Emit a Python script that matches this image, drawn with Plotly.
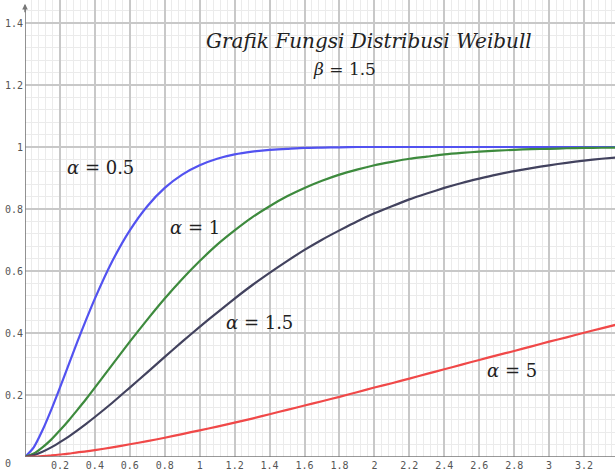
import plotly.graph_objects as go

# Sample points of the Weibull CDF curves (beta = 1.5)
x_vals = [0.0, 0.05, 0.1, 0.15, 0.2, 0.25, 0.3, 0.35, 0.4, 0.5, 0.6, 0.7, 0.8, 0.9, 1.0, 1.1,
          1.2, 1.3, 1.4, 1.5, 1.6, 1.7, 1.8, 1.9, 2.0, 2.1, 2.2, 2.3, 2.4, 2.5, 2.6, 2.7, 2.8,
          2.9, 3.0, 3.1, 3.2, 3.3, 3.4]

f_alpha_05 = [0.0, 0.031, 0.086, 0.152, 0.224, 0.298, 0.372, 0.443, 0.511, 0.632, 0.731, 0.809,
              0.868, 0.911, 0.941, 0.962, 0.976, 0.985, 0.991, 0.994, 0.997, 0.998, 0.999, 1.0,
              1.0, 1.0, 1.0, 1.0, 1.0, 1.0, 1.0, 1.0, 1.0, 1.0, 1.0, 1.0, 1.0, 1.0, 1.0]
f_alpha_1 = [0.0, 0.011, 0.031, 0.056, 0.086, 0.118, 0.152, 0.187, 0.224, 0.298, 0.372, 0.443,
             0.511, 0.574, 0.632, 0.685, 0.731, 0.773, 0.809, 0.841, 0.868, 0.891, 0.911, 0.927,
             0.941, 0.952, 0.962, 0.969, 0.976, 0.981, 0.985, 0.988, 0.991, 0.993, 0.994, 0.996,
             0.997, 0.9975, 0.998]
f_alpha_15 = [0.0, 0.006, 0.017, 0.031, 0.048, 0.066, 0.086, 0.107, 0.129, 0.175, 0.224, 0.273,
              0.323, 0.372, 0.420, 0.466, 0.511, 0.554, 0.594, 0.632, 0.668, 0.701, 0.731, 0.760,
              0.786, 0.809, 0.831, 0.850, 0.868, 0.884, 0.898, 0.911, 0.922, 0.932, 0.941, 0.949,
              0.956, 0.962, 0.967]
f_alpha_5 = [0.0, 0.001, 0.003, 0.005, 0.008, 0.011, 0.015, 0.018, 0.022, 0.031, 0.041, 0.051,
             0.062, 0.074, 0.086, 0.098, 0.111, 0.124, 0.138, 0.152, 0.166, 0.180, 0.194, 0.209,
             0.224, 0.238, 0.253, 0.268, 0.283, 0.298, 0.313, 0.328, 0.342, 0.357, 0.372, 0.386,
             0.401, 0.415, 0.429]

x_ticks = [0.2, 0.4, 0.6, 0.8, 1, 1.2, 1.4, 1.6, 1.8, 2, 2.2, 2.4, 2.6, 2.8, 3, 3.2]
x_ticktext = ["0.2", "0.4", "0.6", "0.8", "1", "1.2", "1.4", "1.6", "1.8", "2", "2.2", "2.4",
              "2.6", "2.8", "3", "3.2"]
y_ticks = [0.2, 0.4, 0.6, 0.8, 1, 1.2, 1.4]
y_ticktext = ["0.2", "0.4", "0.6", "0.8", "1", "1.2", "1.4"]

series = [
    ("α = 0.5", f_alpha_05, "#5252f0"),
    ("α = 1", f_alpha_1, "#3d8a3d"),
    ("α = 1.5", f_alpha_15, "#42425e"),
    ("α = 5", f_alpha_5, "#f04848"),
]

fig = go.Figure()
for name, ys, color in series:
    fig.add_trace(go.Scatter(x=x_vals, y=ys, mode="lines", name=name,
                             line=dict(color=color, width=2.2, shape="spline", smoothing=0.6),
                             showlegend=False, hoverinfo="skip"))

X_MAX = 590 / 174.7
Y_MAX = 457 / 310.0

tick_font = dict(family="DejaVu Sans Mono", size=10, color="#555555")
fig.update_xaxes(range=[0, X_MAX], tickvals=x_ticks, ticktext=x_ticktext, tickfont=tick_font,
                 showgrid=True, gridcolor="#c8c8c8", gridwidth=1.5,
                 minor=dict(dtick=0.04, showgrid=True, gridcolor="#ebebeb", gridwidth=1),
                 zeroline=False, showline=False, ticks="", ticklabelstandoff=1)
fig.update_yaxes(range=[0, Y_MAX], tickvals=y_ticks, ticktext=y_ticktext, tickfont=tick_font,
                 showgrid=True, gridcolor="#c8c8c8", gridwidth=1.5,
                 minor=dict(dtick=0.04, showgrid=True, gridcolor="#ebebeb", gridwidth=1),
                 zeroline=False, showline=False, ticks="", ticklabelstandoff=1)

# Axis lines with an arrow on the vertical axis
fig.add_shape(type="line", x0=0, x1=X_MAX, y0=0, y1=0, xref="x", yref="y",
              line=dict(color="#777777", width=1.6))
fig.add_shape(type="line", x0=0, x1=0, y0=0, y1=1.455, xref="x", yref="y",
              line=dict(color="#777777", width=1.6))
fig.add_annotation(x=0, y=1.462, ax=0, ay=1.43, xref="x", yref="y", axref="x", ayref="y",
                   showarrow=True, arrowhead=2, arrowsize=0.8, arrowwidth=1.4,
                   arrowcolor="#777777", text="")

# Origin label sits in the bottom-left margin
fig.add_annotation(x=-17 / 590, y=-6 / 457, xref="paper", yref="paper", text="0",
                   showarrow=False, font=tick_font, yanchor="middle", xanchor="center")

fig.add_annotation(x=1.97, y=1.342, text="<i>Grafik Fungsi Distribusi Weibull</i>",
                   showarrow=False, font=dict(family="DejaVu Serif", size=20, color="#222222"))
fig.add_annotation(x=1.83, y=1.252, text="<i>β</i> = 1.5", showarrow=False,
                   font=dict(family="DejaVu Serif", size=17, color="#222222"))

curve_font = dict(family="DejaVu Serif", size=18, color="#222222")
fig.add_annotation(x=0.43, y=0.935, text="<i>α</i> = 0.5", showarrow=False, font=curve_font)
fig.add_annotation(x=0.975, y=0.74, text="<i>α</i> = 1", showarrow=False, font=curve_font)
fig.add_annotation(x=1.34, y=0.435, text="<i>α</i> = 1.5", showarrow=False, font=curve_font)
fig.add_annotation(x=2.79, y=0.28, text="<i>α</i> = 5", showarrow=False, font=curve_font)

fig.update_layout(width=615, height=472, margin=dict(l=25, r=0, t=0, b=15),
                  plot_bgcolor="white", paper_bgcolor="white")

fig.write_html("out.html")
